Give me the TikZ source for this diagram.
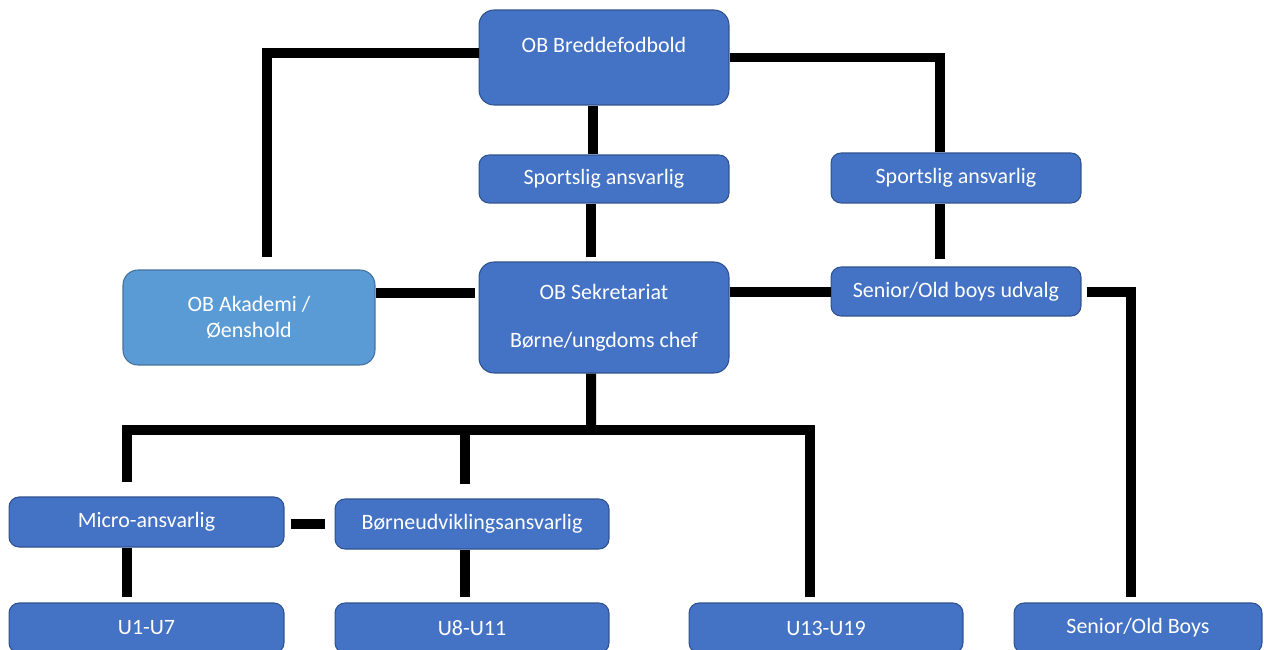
\documentclass[tikz,border=0pt]{standalone}
\usepackage{fontspec}
\setmainfont{Carlito}
\usepackage{tikz}
\usetikzlibrary{
  positioning,
  calc
}
\definecolor{boxblue}{HTML}{4472C4}
\definecolor{boxline}{HTML}{2F528F}
\definecolor{akablue}{HTML}{5B9BD5}
\definecolor{akaline}{HTML}{41719C}

\begin{document}
\begin{tikzpicture}[
      x=0.02cm, y=-0.02cm,
      box/.style={draw=boxline, fill=boxblue, rounded corners=0.2cm, text=white,
                  align=center, inner sep=0pt, line width=0.6pt,
                  minimum width=5cm, minimum height=1cm,
                  font=\fontsize{12.5}{15}\selectfont},
      bigbox/.style={box, rounded corners=0.3cm},
      link/.style={line width=0.2cm, black}
  ]
      \clip (0,0) rectangle (1264,649);

      % Boksene
      \node[bigbox, minimum height=1.9cm, text depth=0.5cm] (bredde) at (604,57.5) {OB Breddefodbold};
      \node[box, minimum height=0.96cm] (sport1) at (604,179) {Sportslig ansvarlig};
      \node[box] (sport2) at (956,178) {Sportslig ansvarlig};
      \node[bigbox, fill=akablue, draw=akaline, minimum width=5.04cm, minimum height=1.9cm]
          (akademi) at (249,317.5) {OB Akademi /\\Øenshold};
      \node[bigbox, minimum height=2.22cm] (sekr) at (604,317.5) {OB Sekretariat\\[0.43cm]Børne/ungdoms chef};
      \node[box, minimum height=0.98cm] (udvalg) at (956,291.5) {Senior/Old boys udvalg};
      \node[box, minimum width=5.5cm] (micro) at (146.5,522) {Micro-ansvarlig};
      \node[box, minimum width=5.48cm] (boerne) at (472,524) {Børneudviklingsansvarlig};
      \node[box, minimum width=5.5cm] (u1) at (146.5,628) {U1-U7};
      \node[box, minimum width=5.48cm] (u8) at (472,628) {U8-U11};
      \node[box, minimum width=5.48cm] (u13) at (826,628) {U13-U19};
      \node[box, minimum width=4.96cm] (senior) at (1138,628) {Senior/Old Boys};

      % Forbindelser
      \draw[link] ([yshift=0.1cm]bredde.west) -| ([xshift=0.36cm, yshift=0.24cm]akademi.north);
      \draw[link] (bredde.east) -| ([xshift=-0.32cm]sport2.north);
      \draw[link] ([xshift=-0.22cm]bredde.south) -- ([xshift=-0.22cm]sport1.north);
      \draw[link] ([xshift=-0.26cm]sport1.south) -- ([xshift=-0.26cm, yshift=0.08cm]sekr.north);
      \draw[link] ([xshift=-0.32cm]sport2.south) -- ([xshift=-0.32cm, yshift=0.14cm]udvalg.north);
      \draw[link] ([yshift=0.49cm]akademi.east) -- ([xshift=-0.08cm, yshift=0.49cm]sekr.west);
      \draw[link] (udvalg.west -| sekr.east) -- (udvalg.west);
      \draw[link] ([xshift=0.1cm]udvalg.east) -| ([xshift=-0.14cm, yshift=0.1cm]senior.north);

      \coordinate (bus) at (591,430);
      \draw[link] ([xshift=-0.26cm]sekr.south) -- (bus);
      \draw[link] ([xshift=-0.39cm, yshift=0.28cm]micro.north) |- (bus)
          -| ([xshift=-0.32cm, yshift=0.1cm]u13.north);
      \draw[link] ([xshift=-0.14cm, yshift=0.28cm]boerne.north) |- (bus);

      \draw[link] ([xshift=0.12cm]boerne.west -| micro.east) -- ([xshift=-0.2cm]boerne.west);
      \draw[link] ([xshift=-0.39cm]micro.south) -- ([xshift=-0.39cm, yshift=0.1cm]u1.north);
      \draw[link] ([xshift=-0.14cm]boerne.south) -- ([xshift=-0.14cm, yshift=0.1cm]u8.north);
  \end{tikzpicture}
\end{document}
